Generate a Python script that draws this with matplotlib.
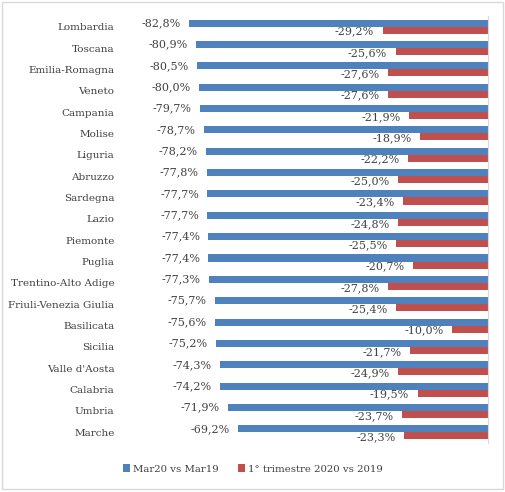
import numpy as np
import matplotlib
matplotlib.use("Agg")
import matplotlib.pyplot as plt
from matplotlib.patches import Rectangle

regions = ["Lombardia", "Toscana", "Emilia-Romagna", "Veneto", "Campania", "Molise",
           "Liguria", "Abruzzo", "Sardegna", "Lazio", "Piemonte", "Puglia",
           "Trentino-Alto Adige", "Friuli-Venezia Giulia", "Basilicata", "Sicilia",
           "Valle d'Aosta", "Calabria", "Umbria", "Marche"]
mar20 = [-82.8, -80.9, -80.5, -80.0, -79.7, -78.7, -78.2, -77.8, -77.7, -77.7,
         -77.4, -77.4, -77.3, -75.7, -75.6, -75.2, -74.3, -74.2, -71.9, -69.2]
trim1 = [-29.2, -25.6, -27.6, -27.6, -21.9, -18.9, -22.2, -25.0, -23.4, -24.8,
         -25.5, -20.7, -27.8, -25.4, -10.0, -21.7, -24.9, -19.5, -23.7, -23.3]

blue = "#4f81bd"
red = "#c0504d"
txt = "#404040"
plt.rcParams["font.family"] = ["DejaVu Serif"]
plt.rcParams["font.size"] = 7.5

fig = plt.figure(figsize=(5.06, 4.92), dpi=100)
ax = fig.add_axes([120 / 506, 1 - 443 / 492, 368 / 506, 427 / 492])

y = np.arange(len(regions))
h = 0.33
ax.barh(y - h / 2, mar20, height=h, color=blue, label="Mar20 vs Mar19")
ax.barh(y + h / 2, trim1, height=h, color=red, label="1° trimestre 2020 vs 2019")

def fmt(v):
    return f"{v:.1f}%".replace(".", ",")

for i in range(len(regions)):
    ax.annotate(fmt(mar20[i]), xy=(mar20[i], y[i] - h / 2), xytext=(-6, 0),
                textcoords="offset points", ha="right", va="center", color=txt,
                fontsize=8)
    ax.annotate(fmt(trim1[i]), xy=(trim1[i], y[i] + h / 2), xytext=(-6, -1),
                textcoords="offset points", ha="right", va="center", color=txt,
                fontsize=8)

ax.set_xlim(-101.9, 0)
ax.set_ylim(len(regions) - 0.5, -0.5)
ax.set_yticks(y)
ax.set_yticklabels(regions, color=txt)
ax.set_xticks([])
ax.tick_params(axis="y", length=0, pad=4)
for s in ["left", "top", "bottom"]:
    ax.spines[s].set_visible(False)
ax.spines["right"].set_color("#d9d9d9")

fig.legend(loc="center", bbox_to_anchor=(0.5, 1 - 469 / 492), ncol=2, frameon=False,
           handlelength=0.7, handleheight=0.7, handletextpad=0.3, columnspacing=1.9,
           labelcolor=txt, fontsize=7.3)

fig.patches.append(Rectangle((0.004, 0.006), 0.99, 0.99, transform=fig.transFigure,
                             fill=False, edgecolor="#d9d9d9", linewidth=1))

fig.savefig("out.png", dpi=100)
